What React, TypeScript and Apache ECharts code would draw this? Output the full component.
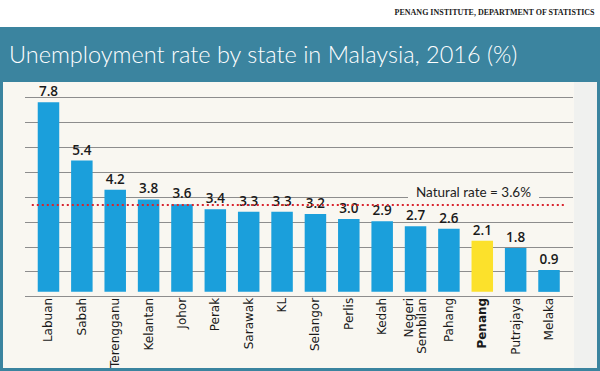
import React, { useEffect, useRef } from "react";
import * as echarts from "echarts";

const categories = [
  "Labuan", "Sabah", "Terengganu", "Kelantan", "Johor", "Perak", "Sarawak", "KL",
  "Selangor", "Perlis", "Kedah", "Negeri\nSembilan", "Pahang", "Penang", "Putrajaya", "Melaka",
];
const rates = [7.8, 5.4, 4.2, 3.8, 3.6, 3.4, 3.3, 3.3, 3.2, 3.0, 2.9, 2.7, 2.6, 2.1, 1.8, 0.9];
const highlight = "Penang";
const naturalRate = 3.6;
const yTicks = { min: 0, max: 8, interval: 1 };

const TEAL = "#3b849f";
const PANEL = "#f9f7f1";
const BLUE = "#1b9fdb";
const YELLOW = "#fce12b";

export default function App() {
  const ref = useRef<HTMLDivElement>(null);
  useEffect(() => {
    document.body.style.margin = "0";
    const chart = echarts.init(ref.current!, null, { renderer: "svg" });
    const top = 97.4;
    const bottom = 371 - 296.6;
    chart.setOption({
      animation: false,
      backgroundColor: "#ffffff",
      title: {
        text: "Unemployment rate by state in Malaysia, 2016 (%)",
        left: 4,
        top: 37,
        textStyle: {
          color: "#ffffff",
          fontFamily: "Lato",
          fontWeight: 300,
          fontSize: 23.5,
        },
      },
      graphic: [
        { type: "rect", z: -10, silent: true, shape: { x: 0, y: 27, width: 600, height: 344 }, style: { fill: TEAL } },
        { type: "rect", z: -9, silent: true, shape: { x: 3, y: 82, width: 594, height: 286 }, style: { fill: PANEL } },
        { type: "rect", z: -8, silent: true, shape: { x: 574, y: 82, width: 23, height: 286 }, style: { fill: "#f0f1ef" } },
        {
          type: "text",
          right: 5,
          top: 8,
          style: {
            text: "PENANG INSTITUTE, DEPARTMENT OF STATISTICS",
            fill: "#1a1a1a",
            font: "bold 8px 'Liberation Serif'",
          },
        },
        {
          type: "text",
          z: 100,
          x: 408,
          y: 183,
          style: {
            text: "Natural rate = 3.6%",
            fill: "#222222",
            font: "13.5px 'Lato'",
            backgroundColor: PANEL,
            padding: [2, 8, 2, 8],
          },
        },
      ],
      grid: [
        { left: 25, right: 27, top, bottom },
        { left: 31.8, right: 34.3, top, bottom },
      ],
      xAxis: [
        { type: "value", gridIndex: 0, show: false, min: 0, max: 1 },
        {
          type: "category",
          gridIndex: 1,
          data: categories,
          axisLine: { show: false },
          axisTick: { show: false },
          axisLabel: {
            rotate: 90,
            margin: 6,
            interval: 0,
            color: "#1a1a1a",
            fontFamily: "DejaVu Sans",
            fontSize: 12,
            lineHeight: 13,
            formatter: (v: string) => (v === highlight ? `{b|${v}}` : v),
            rich: { b: { fontWeight: "bold", fontFamily: "DejaVu Sans", fontSize: 12, color: "#1a1a1a" } },
          },
        },
      ],
      yAxis: [
        {
          type: "value",
          gridIndex: 0,
          ...yTicks,
          axisLabel: { show: false },
          axisLine: { show: false },
          axisTick: { show: false },
          splitLine: { lineStyle: { color: "#8d8d8d", width: 1 } },
        },
        {
          type: "value",
          gridIndex: 1,
          ...yTicks,
          show: false,
          splitLine: { show: false },
        },
      ],
      series: [
        {
          type: "bar",
          xAxisIndex: 1,
          yAxisIndex: 1,
          barWidth: 21.5,
          data: rates.map((v, i) => ({
            value: v,
            itemStyle: { color: categories[i] === highlight ? YELLOW : BLUE },
          })),
          label: {
            show: true,
            position: "top",
            distance: 4,
            color: "#1a1a1a",
            fontFamily: "Open Sans",
            fontSize: 13.5,
            fontWeight: 600,
            formatter: (p: any) => Number(p.value).toFixed(1),
          },
          markLine: {
            silent: true,
            symbol: "none",
            label: { show: false },
            lineStyle: { color: "#d9232e", type: [2, 3], width: 2.2 },
            data: [{ yAxis: naturalRate }],
          },
        },
      ],
    });
    return () => chart.dispose();
  }, []);
  return <div ref={ref} style={{ width: 600, height: 371 }} />;
}
